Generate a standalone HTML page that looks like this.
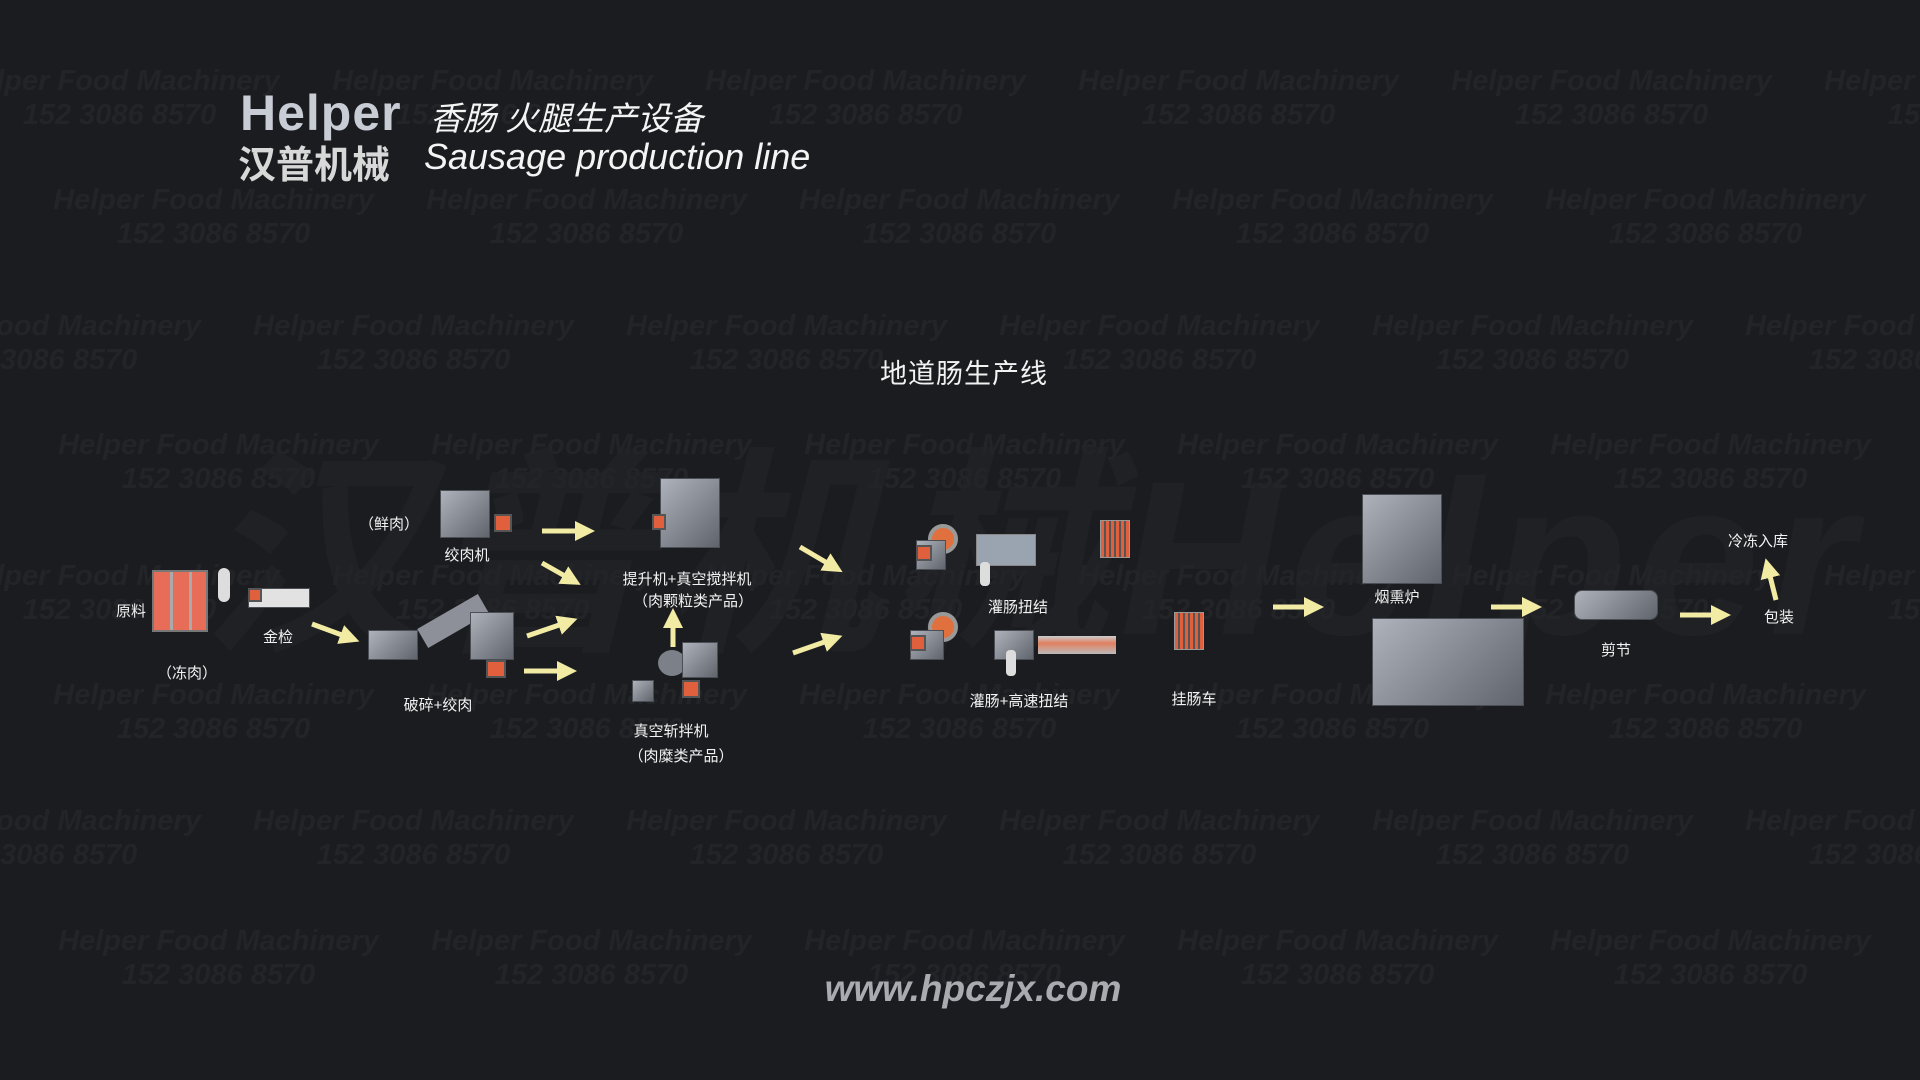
<!DOCTYPE html>
<html><head><meta charset="utf-8"><style>
*{margin:0;padding:0;box-sizing:border-box}
html,body{width:1920px;height:1080px;overflow:hidden}
body{background:#1b1c20;position:relative;font-family:"Liberation Sans","Noto Sans CJK SC",sans-serif;color:#fff}
.a{position:absolute}
.wm{position:absolute;left:0;width:1920px;overflow:hidden;white-space:nowrap;color:#232428;font-style:italic;font-weight:bold;font-size:29px}
.wm span{display:inline-block;width:373px;text-align:center;line-height:34px}
.lb{position:absolute;font-size:15px;color:#f2f2f2;transform:translateX(-50%);white-space:nowrap}
.m{position:absolute;background:linear-gradient(135deg,#aeb2bb,#60646c);border:1px solid #4b4e55}
.o{position:absolute;background:#e0603e;border:2px solid #555}
svg{position:absolute;left:0;top:0}
</style></head><body>
<div class="a" style="left:200px;top:380px;width:1720px;overflow:hidden;font-size:220px;font-weight:bold;color:#202125;font-style:italic;white-space:nowrap;letter-spacing:10px">汉普机械Helper</div>

<div class="wm" style="top:64px"><span style="margin-left:-67px">Helper Food Machinery<br>152 3086 8570</span><span>Helper Food Machinery<br>152 3086 8570</span><span>Helper Food Machinery<br>152 3086 8570</span><span>Helper Food Machinery<br>152 3086 8570</span><span>Helper Food Machinery<br>152 3086 8570</span><span>Helper Food Machinery<br>152 3086 8570</span></div>
<div class="wm" style="top:183px"><span style="margin-left:27px">Helper Food Machinery<br>152 3086 8570</span><span>Helper Food Machinery<br>152 3086 8570</span><span>Helper Food Machinery<br>152 3086 8570</span><span>Helper Food Machinery<br>152 3086 8570</span><span>Helper Food Machinery<br>152 3086 8570</span></div>
<div class="wm" style="top:309px"><span style="margin-left:-146px">Helper Food Machinery<br>152 3086 8570</span><span>Helper Food Machinery<br>152 3086 8570</span><span>Helper Food Machinery<br>152 3086 8570</span><span>Helper Food Machinery<br>152 3086 8570</span><span>Helper Food Machinery<br>152 3086 8570</span><span>Helper Food Machinery<br>152 3086 8570</span></div>
<div class="wm" style="top:428px"><span style="margin-left:32px">Helper Food Machinery<br>152 3086 8570</span><span>Helper Food Machinery<br>152 3086 8570</span><span>Helper Food Machinery<br>152 3086 8570</span><span>Helper Food Machinery<br>152 3086 8570</span><span>Helper Food Machinery<br>152 3086 8570</span></div>
<div class="wm" style="top:559px"><span style="margin-left:-67px">Helper Food Machinery<br>152 3086 8570</span><span>Helper Food Machinery<br>152 3086 8570</span><span>Helper Food Machinery<br>152 3086 8570</span><span>Helper Food Machinery<br>152 3086 8570</span><span>Helper Food Machinery<br>152 3086 8570</span><span>Helper Food Machinery<br>152 3086 8570</span></div>
<div class="wm" style="top:678px"><span style="margin-left:27px">Helper Food Machinery<br>152 3086 8570</span><span>Helper Food Machinery<br>152 3086 8570</span><span>Helper Food Machinery<br>152 3086 8570</span><span>Helper Food Machinery<br>152 3086 8570</span><span>Helper Food Machinery<br>152 3086 8570</span></div>
<div class="wm" style="top:804px"><span style="margin-left:-146px">Helper Food Machinery<br>152 3086 8570</span><span>Helper Food Machinery<br>152 3086 8570</span><span>Helper Food Machinery<br>152 3086 8570</span><span>Helper Food Machinery<br>152 3086 8570</span><span>Helper Food Machinery<br>152 3086 8570</span><span>Helper Food Machinery<br>152 3086 8570</span></div>
<div class="wm" style="top:924px"><span style="margin-left:32px">Helper Food Machinery<br>152 3086 8570</span><span>Helper Food Machinery<br>152 3086 8570</span><span>Helper Food Machinery<br>152 3086 8570</span><span>Helper Food Machinery<br>152 3086 8570</span><span>Helper Food Machinery<br>152 3086 8570</span></div>

<div class="a" style="left:240px;top:84px;font-size:50px;font-weight:bold;color:#c8ccd4;letter-spacing:1px">Helper</div>
<div class="a" style="left:238px;top:134px;font-size:38px;font-weight:bold;color:#d8d8d8">汉普机械</div>
<div class="a" style="left:430px;top:92px;font-size:33px;font-style:italic;color:#f4f4f4">香肠 火腿生产设备</div>
<div class="a" style="left:424px;top:136px;font-size:36px;font-style:italic;color:#f4f4f4">Sausage production line</div>
<div class="a" style="left:964px;top:352px;transform:translateX(-50%);font-size:27px;color:#f2f2f2;letter-spacing:1px">地道肠生产线</div>
<div class="a" style="left:973px;top:968px;transform:translateX(-50%);font-size:37px;font-style:italic;font-weight:bold;color:#a9abb0">www.hpczjx.com</div>

<div class="a" style="left:152px;top:570px;width:56px;height:62px;background:repeating-linear-gradient(90deg,#e86d58 0 16px,#aaa 16px 19px),#e86d58;border:2px solid #777"></div>
<div class="a" style="left:218px;top:568px;width:12px;height:34px;background:#ddd;border-radius:6px"></div>
<div class="m" style="left:248px;top:588px;width:62px;height:20px;background:#e2e2e2"></div><div class="o" style="left:248px;top:588px;width:14px;height:14px"></div>
<div class="m" style="left:440px;top:490px;width:50px;height:48px"></div><div class="o" style="left:494px;top:514px;width:18px;height:18px"></div>
<div class="m" style="left:368px;top:630px;width:50px;height:30px"></div>
<div class="a" style="left:418px;top:610px;width:70px;height:22px;background:#8d9099;transform:rotate(-30deg)"></div>
<div class="m" style="left:470px;top:612px;width:44px;height:48px"></div><div class="o" style="left:486px;top:660px;width:20px;height:18px"></div>
<div class="m" style="left:660px;top:478px;width:60px;height:70px"></div><div class="o" style="left:652px;top:514px;width:14px;height:16px"></div>
<div class="a" style="left:658px;top:650px;width:28px;height:26px;border-radius:50%;background:#7c8088"></div>
<div class="m" style="left:682px;top:642px;width:36px;height:36px"></div><div class="o" style="left:682px;top:680px;width:18px;height:18px"></div>
<div class="m" style="left:632px;top:680px;width:22px;height:22px"></div>
<div class="a" style="left:928px;top:524px;width:30px;height:30px;border-radius:50%;background:#e0703e;border:4px solid #999"></div>
<div class="m" style="left:916px;top:540px;width:30px;height:30px"></div><div class="o" style="left:916px;top:545px;width:16px;height:16px"></div>
<div class="a" style="left:976px;top:534px;width:60px;height:32px;background:#9aa3b0;border:1px solid #888"></div>
<div class="a" style="left:980px;top:562px;width:10px;height:24px;background:#ddd;border-radius:4px"></div>
<div class="a" style="left:928px;top:612px;width:30px;height:30px;border-radius:50%;background:#e0703e;border:4px solid #999"></div>
<div class="m" style="left:910px;top:630px;width:34px;height:30px"></div><div class="o" style="left:910px;top:635px;width:16px;height:16px"></div>
<div class="m" style="left:994px;top:630px;width:40px;height:30px"></div>
<div class="a" style="left:1038px;top:636px;width:78px;height:18px;background:linear-gradient(#ccc,#e08060 40%,#bbb)"></div>
<div class="a" style="left:1006px;top:650px;width:10px;height:26px;background:#ddd;border-radius:4px"></div>
<div class="a" style="left:1100px;top:520px;width:30px;height:38px;background:repeating-linear-gradient(90deg,#e0603e 0 3px,#555 3px 5px);border:1px solid #999"></div>
<div class="a" style="left:1174px;top:612px;width:30px;height:38px;background:repeating-linear-gradient(90deg,#e0603e 0 3px,#555 3px 5px);border:1px solid #999"></div>
<div class="m" style="left:1362px;top:494px;width:80px;height:90px"></div>
<div class="m" style="left:1372px;top:618px;width:152px;height:88px"></div>
<div class="m" style="left:1574px;top:590px;width:84px;height:30px;border-radius:8px"></div>

<svg width="1920" height="1080"><defs><marker id="h" markerWidth="4" markerHeight="4" refX="2" refY="2" orient="auto"><path d="M0,0L4,2L0,4z" fill="#f2eba4"/></marker></defs>
<g stroke="#f2eba4" stroke-width="5" marker-end="url(#h)">
<line x1="312" y1="624" x2="350" y2="638"/><line x1="542" y1="531" x2="585" y2="531"/><line x1="542" y1="563" x2="572" y2="580"/>
<line x1="527" y1="636" x2="568" y2="622"/><line x1="524" y1="671" x2="567" y2="671"/><line x1="673" y1="647" x2="673" y2="618"/>
<line x1="800" y1="547" x2="834" y2="567"/><line x1="793" y1="653" x2="833" y2="639"/><line x1="1273" y1="607" x2="1314" y2="607"/>
<line x1="1491" y1="607" x2="1532" y2="607"/><line x1="1680" y1="615" x2="1721" y2="615"/><line x1="1776" y1="600" x2="1768" y2="568"/>
</g></svg>

<div class="lb" style="left:131px;top:600px">原料</div>
<div class="lb" style="left:187px;top:662px">（冻肉）</div>
<div class="lb" style="left:278px;top:626px">金检</div>
<div class="lb" style="left:389px;top:513px">（鲜肉）</div>
<div class="lb" style="left:467px;top:544px">绞肉机</div>
<div class="lb" style="left:438px;top:694px">破碎+绞肉</div>
<div class="lb" style="left:687px;top:568px">提升机+真空搅拌机</div>
<div class="lb" style="left:693px;top:590px">（肉颗粒类产品）</div>
<div class="lb" style="left:671px;top:720px">真空斩拌机</div>
<div class="lb" style="left:681px;top:745px">（肉糜类产品）</div>
<div class="lb" style="left:1018px;top:596px">灌肠扭结</div>
<div class="lb" style="left:1019px;top:690px">灌肠+高速扭结</div>
<div class="lb" style="left:1194px;top:688px">挂肠车</div>
<div class="lb" style="left:1397px;top:586px">烟熏炉</div>
<div class="lb" style="left:1616px;top:639px">剪节</div>
<div class="lb" style="left:1779px;top:606px">包装</div>
<div class="lb" style="left:1758px;top:530px">冷冻入库</div>
</body></html>
